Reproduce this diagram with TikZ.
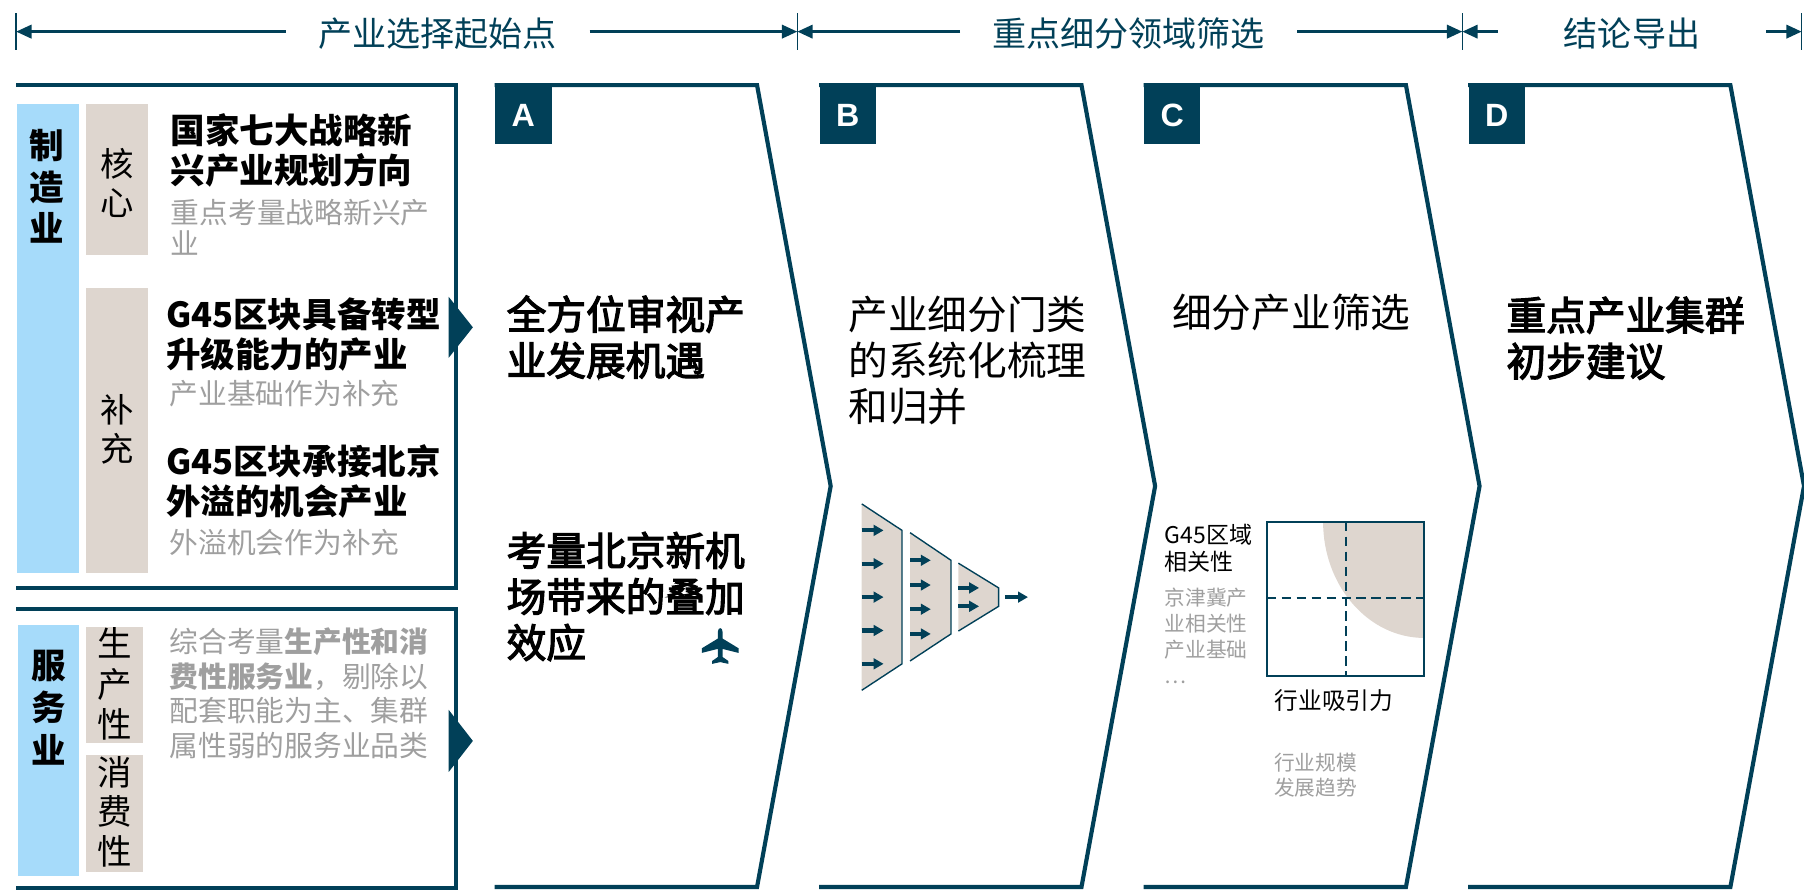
\documentclass[tikz,border=0pt]{standalone}
\usepackage{fontspec}
\setmainfont{Noto Sans CJK SC}
\newfontfamily\semifont[FakeBold=3]{Noto Sans CJK SC}
\newfontfamily\latfont{Liberation Sans}
\usetikzlibrary{arrows.meta}
\definecolor{deepteal}{RGB}{1,64,88}
\definecolor{skyblue}{HTML}{A6DBFA}
\definecolor{sand}{HTML}{DED6CF}
\definecolor{softgray}{HTML}{9F9F9F}

\begin{document}
\begin{tikzpicture}[x=0.5pt, y=-0.5pt,
		dimline/.style={deepteal, line width=1.2pt, -{Triangle[length=6.7pt, width=5.8pt]}},
		dimtick/.style={deepteal, line width=0.6pt},
		dimtext/.style={text=deepteal, inner ysep=0pt, font=\fontsize{14.8}{17}\selectfont},
		chevline/.style={deepteal, line width=1.8pt, line join=miter},
		letterbox/.style={fill=deepteal, text=white, anchor=north west, minimum width=24.5pt, minimum height=25.5pt, inner sep=0pt, font=\latfont\bfseries\fontsize{14}{16}\selectfont},
		headline/.style={anchor=west, align=left, inner sep=0pt, font=\fontsize{17.25}{20}\selectfont},
		boldline/.style={headline, font=\semifont\fontsize{17.25}{20}\selectfont},
		itemhead/.style={anchor=west, align=left, inner sep=0pt, font=\bfseries\fontsize{15}{17.5}\selectfont},
		itemnote/.style={anchor=west, align=left, inner sep=0pt, text=softgray, font=\fontsize{12.5}{13.5}\selectfont},
		sidetag/.style={align=center, inner sep=0pt, font=\fontsize{14.5}{17}\selectfont},
		funarrow/.style={deepteal, line width=1.8pt, -{Triangle[length=4.3pt, width=4.6pt]}}]
	\useasboundingbox (0,0) rectangle (1568,773.6);

	\coordinate (k0) at (14,27.5);
	\coordinate (k1) at (693,27.5);
	\coordinate (k2) at (1271,27.5);
	\coordinate (k3) at (1566,27.5);
	\foreach \k in {k0,k1,k2,k3}
		\draw[dimtick] (\k) ++(0,-16) -- ++(0,32);
	\node[dimtext, inner xsep=14pt] (span1) at (380.5,29.5) {产业选择起始点};
	\node[dimtext, inner xsep=13.8pt] (span2) at (981,29.5) {重点细分领域筛选};
	\node[dimtext, inner xsep=28.5pt] (span3) at (1418.5,29.5) {结论导出};
	\draw[dimline] (span1.west |- k0) -- (k0);
	\draw[dimline] (span1.east |- k0) -- (k1);
	\draw[dimline] (span2.west |- k0) -- (k1);
	\draw[dimline] (span2.east |- k0) -- (k2);
	\draw[dimline] (span3.west |- k0) -- (k2);
	\draw[dimline] (span3.east |- k0) -- (k3);

	\fill[skyblue] (15,90) rectangle (68.7,498);
	\fill[skyblue] (16,543) rectangle (68.7,761);
	\fill[sand] (75,90) rectangle (128.6,222);
	\fill[sand] (75,250) rectangle (128.6,498);
	\fill[sand] (75,545) rectangle (124,646);
	\fill[sand] (75,656) rectangle (124,758);
	\draw[chevline] (14,74) -- (396,74) -- (396,511) -- (14,511);
	\draw[chevline] (14,529) -- (396,529) -- (396,772) -- (14,772);
	\fill[deepteal] (390,258) -- (411,284.5) -- (390,311) -- cycle;
	\fill[deepteal] (390,617) -- (411,644) -- (390,671) -- cycle;

	\node[sidetag, font=\bfseries\fontsize{15}{18}\selectfont] (mfg) at (41,162) {制\\造\\业};
	\node[sidetag] (core) at (101.5,159) {核\\心};
	\node[sidetag] (supp) at (101.5,373) {补\\充};
	\node[sidetag, font=\bfseries\fontsize{15}{18.5}\selectfont] (svc) at (42,615) {服\\务\\业};
	\node[sidetag, font=\fontsize{15}{17.75}\selectfont] (prod) at (100,594.5) {生\\产\\性};
	\node[sidetag, font=\fontsize{15}{17.25}\selectfont] (cons) at (100,705.5) {消\\费\\性};

	\node[itemhead] (corehead) at (148,130.75) {国家七大战略新\\兴产业规划方向};
	\node[itemnote] (corenote) at (148,197.5) {重点考量战略新兴产\\业};
	\node[itemhead] (upgrhead) at (144,291) {G45区块具备转型\\升级能力的产业};
	\node[itemnote] (upgrnote) at (147,342) {产业基础作为补充};
	\node[itemhead] (spillhead) at (144,418.75) {G45区块承接北京\\外溢的机会产业};
	\node[itemnote] (spillnote) at (147,472) {外溢机会作为补充};
	\node[itemnote, font=\fontsize{12.5}{15}\selectfont] (svcnote) at (147,602.75) {综合考量\textbf{生产性和消}\\\textbf{费性服务业}，剔除以\\配套职能为主、集群\\属性弱的服务业品类};

	\foreach \i/\lab in {0/A,1/B,2/C,3/D}{
		\pgfmathsetmacro{\xl}{430+282*\i}
		\draw[chevline] (\xl,771) -- (\xl+228,771) -- (\xl+292,422.5) -- (\xl+228,74) -- (\xl,74);
		\node[letterbox] (box\lab) at (\xl,74) {\lab};
	}

	\node[boldline] (viewA) at (440,293) {全方位审视产\\业发展机遇};
	\node[boldline] (airA) at (440,518.5) {考量北京新机\\场带来的叠加\\效应};
	\fill[deepteal] (624,549) .. controls (624,545) and (628,545) .. (628,549) -- (628,555) -- (642,563.5) -- (642,567.5) -- (628,564) -- (628,571) -- (633,574.5) -- (633,577) -- (626,575.5) -- (619,577) -- (619,574.5) -- (624,571) -- (624,564) -- (610,567.5) -- (610,563.5) -- (624,555) -- cycle;

	\node[headline] (sortB) at (737,313) {产业细分门类\\的系统化梳理\\和归并};
	\path[fill=sand, draw=deepteal, line width=0.6pt] (749,438) -- (784,461) -- (784,577) -- (749,600);
	\path[fill=sand, draw=deepteal, line width=0.6pt] (791,463) -- (826.6,487) -- (826.6,551) -- (791,574.5);
	\path[fill=sand, draw=deepteal, line width=0.6pt] (833,489.5) -- (868,511) -- (868,527) -- (833,548.5);
	\foreach \y in {461,490,519,548,577}
		\draw[funarrow] (749,\y) -- ++(19,0);
	\foreach \y in {487,508.5,529.5,551}
		\draw[funarrow] (791,\y) -- ++(18,0);
	\foreach \y in {511,527}
		\draw[funarrow] (833,\y) -- ++(18,0);
	\draw[funarrow] (873.5,519) -- ++(20,0);

	\node[headline] (pickC) at (1018.5,272) {细分产业筛选};
	\begin{scope}
		\clip (1101,453.5) rectangle (1238,587.5);
		\fill[sand] (1238,453.5) ellipse [x radius=44pt, y radius=50.5pt];
	\end{scope}
	\draw[deepteal, line width=0.8pt, dash pattern=on 4pt off 2.5pt] (1170,453.5) -- (1170,587.5) (1101,520) -- (1238,520);
	\draw[deepteal, line width=0.9pt] (1101,453.5) rectangle (1238,587.5);
	\node[anchor=west, align=left, inner sep=0pt, font=\fontsize{10}{11.5}\selectfont] (relhead) at (1012,476.5) {G45区域\\相关性};
	\node[anchor=north west, align=left, inner sep=0pt, text=softgray, font=\fontsize{9}{11.3}\selectfont] (relnote) at (1012,510.5) {京津冀产\\业相关性\\产业基础\\…};
	\node[inner sep=0pt, font=\fontsize{10.3}{12}\selectfont] (attrhead) at (1159.5,608.5) {行业吸引力};
	\node[anchor=west, align=left, inner sep=0pt, text=softgray, font=\fontsize{9}{11}\selectfont] (attrnote) at (1107,674) {行业规模\\发展趋势};

	\node[boldline] (adviceD) at (1309,294) {重点产业集群\\初步建议};
\end{tikzpicture}
\end{document}
